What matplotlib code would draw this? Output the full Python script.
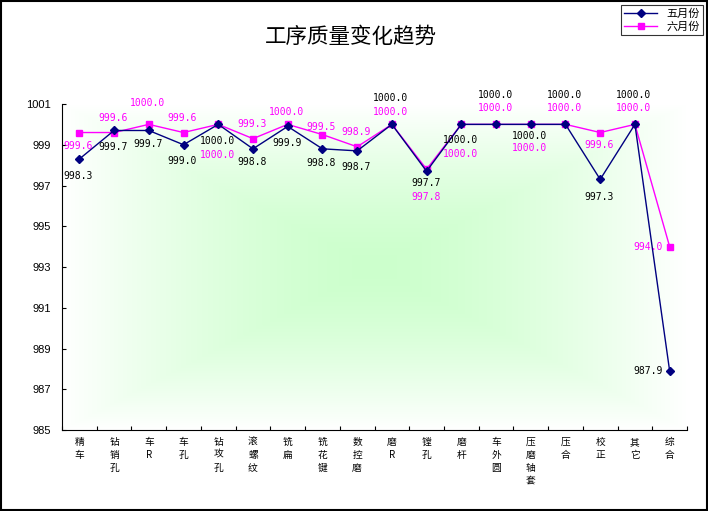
import numpy as np
import matplotlib
matplotlib.use("Agg")
import matplotlib.pyplot as plt
from matplotlib.patches import Rectangle

plt.rcParams['font.family'] = ['Noto Sans CJK SC', 'DejaVu Sans']

# datos del grafico
categorias = ['精车', '钻销孔', '车R', '车孔', '钻攻孔', '滚螺纹', '铣扁', '铣花键', '数控磨',
              '磨R', '镗孔', '磨杆', '车外圆', '压磨轴套', '压合', '校正', '其它', '综合']
mayo = [998.3, 999.7, 999.7, 999.0, 1000.0, 998.8, 999.9, 998.8, 998.7,
        1000.0, 997.7, 1000.0, 1000.0, 1000.0, 1000.0, 997.3, 1000.0, 987.9]
junio = [999.6, 999.6, 1000.0, 999.6, 1000.0, 999.3, 1000.0, 999.5, 998.9,
         1000.0, 997.8, 1000.0, 1000.0, 1000.0, 1000.0, 999.6, 1000.0, 994.0]
series_nombres = ['五月份', '六月份']
titulo = '工序质量变化趋势'
y_ticks = [985, 987, 989, 991, 993, 995, 997, 999, 1001]

# desplazamiento vertical de las etiquetas (pixeles, positivo = abajo)
desp_mayo = [17, 17, 14, 16, 17, 13, 17, 14, 16, -26, 12, 16, -29, 12, -29, 18, -29, 0]
desp_junio = [13, -15, -21, -15, 31, -15, -12, -8, -15, -12, 28, 30, -16, 24, -16, 12, -16, 0]

fig = plt.figure(figsize=(7.08, 5.11), dpi=100)
ax = fig.add_axes([62 / 708, 1 - 430 / 511, 625 / 708, 326 / 511])

# fondo con degradado verde
n = 300
u = np.linspace(-1, 1, n)
U, V = np.meshgrid(u, u)
t = np.clip(np.maximum(np.abs(U), np.abs(V)), 0, 1) ** 1.5
centro = np.array([0.80, 1.0, 0.80])
img = centro[None, None, :] * (1 - t[..., None]) + np.ones(3)[None, None, :] * t[..., None]
ax.imshow(img, extent=[0, 1, 0, 1], transform=ax.transAxes, aspect='auto', zorder=0)

x = np.arange(len(categorias))
ax.plot(x, mayo, color='#000080', marker='D', markersize=4, lw=1, label=series_nombres[0], zorder=3)
ax.plot(x, junio, color='#FF00FF', marker='s', markersize=5, lw=1, label=series_nombres[1], zorder=2)

for i in range(len(x)):
    ha = 'right' if i == len(x) - 1 else 'center'
    dx = -7 if i == len(x) - 1 else -1
    ax.annotate('%.1f' % mayo[i], (x[i], mayo[i]), xytext=(dx, -desp_mayo[i]),
                textcoords='offset pixels', ha=ha, va='center', fontsize=7,
                family='DejaVu Sans Mono', color='black', zorder=5)
    ax.annotate('%.1f' % junio[i], (x[i], junio[i]), xytext=(dx, -desp_junio[i]),
                textcoords='offset pixels', ha=ha, va='center', fontsize=7,
                family='DejaVu Sans Mono', color='#FF00FF', zorder=5)

ax.set_xlim(-0.5, len(categorias) - 0.5)
ax.set_ylim(985, 1001)
ax.set_yticks(y_ticks)
ax.set_yticklabels([str(v) for v in y_ticks], family='Liberation Sans', fontsize=8)
ax.set_xticks(np.arange(len(categorias) + 1) - 0.5)
ax.set_xticklabels([])
ax.set_xticks(x, minor=True)
ax.set_xticklabels(['\n'.join(c) for c in categorias], minor=True, fontsize=7,
                   linespacing=1.35, va='top')
ax.tick_params(axis='x', which='minor', length=0, pad=5)
ax.tick_params(axis='x', which='major', direction='in', length=3)
ax.tick_params(axis='y', direction='in', length=3, pad=8)
ax.spines['top'].set_visible(False)
ax.spines['right'].set_visible(False)

fig.text(0.495, 1 - 37 / 511, titulo, ha='center', va='center', fontsize=15.5)

leg = fig.legend(loc='upper right', bbox_to_anchor=(703 / 708, 1 - 5 / 511), fontsize=8,
                 frameon=True, fancybox=False, edgecolor='black', borderpad=0.3,
                 handlelength=3, labelspacing=0.2, borderaxespad=0)
leg.get_frame().set_linewidth(0.8)

fig.patches.append(Rectangle((0.001, 0.002), 0.997, 0.996, transform=fig.transFigure,
                             fill=False, edgecolor='black', lw=1.5))

fig.savefig('out.png', dpi=100)
